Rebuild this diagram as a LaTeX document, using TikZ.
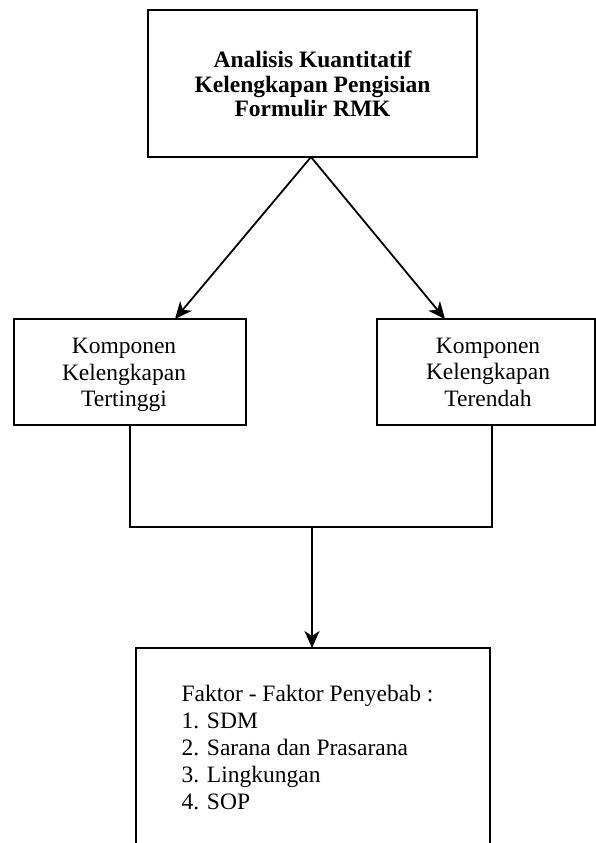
\documentclass[tikz,border=0pt]{standalone}
\usepackage{fontspec}
\setmainfont{Liberation Serif}
\usetikzlibrary{arrows.meta}
\begin{document}
\begin{tikzpicture}[x=1bp,y=-1bp,
  box/.style={draw,line width=1.8bp,rectangle,inner sep=0pt,align=center},
  txt/.style={font=\fontsize{23.5bp}{26.5bp}\selectfont},
  ltxt/.style={font=\fontsize{23.5bp}{27bp}\selectfont},
  btxt/.style={font=\fontsize{23.5bp}{24.5bp}\selectfont\bfseries},
  conn/.style={line width=1.8bp},
  arr/.style={line width=1.8bp,-{Stealth[length=17bp,width=15bp,inset=5bp]}}]
\useasboundingbox (0,0) rectangle (596,843);
\node[box,minimum width=329bp,minimum height=147bp] (top) at (312.5,83.5) {};
\node[btxt,align=center] (toptxt) at (312.5,84) {Analisis Kuantitatif\\Kelengkapan Pengisian\\Formulir RMK};
\node[box,minimum width=232bp,minimum height=106bp] (left) at (130,372) {};
\node[txt,align=center] (lefttxt) at (124,375) {Komponen\\Kelengkapan\\Tertinggi};
\node[box,minimum width=218bp,minimum height=106bp] (right) at (486,372) {};
\node[txt,align=center] (righttxt) at (488,372) {Komponen\\Kelengkapan\\Terendah};
\node[box,minimum width=354bp,minimum height=210bp] (bot) at (313,753) {};
\node[ltxt,align=left,anchor=west] (bottxt) at (178,748) {Faktor - Faktor Penyebab :\\1. SDM\\2. Sarana dan Prasarana\\3. Lingkungan\\4. SOP};
\coordinate (src) at (311,157);
\coordinate (lt) at (175,319);
\coordinate (rt) at (445,319);
\coordinate (lb) at (130,425);
\coordinate (rb) at (492,425);
\coordinate (jl) at (130,527);
\coordinate (jr) at (492,527);
\coordinate (jm) at (312,527);
\coordinate (bt) at (312,648);
\draw[arr] (src) -- (lt);
\draw[arr] (src) -- (rt);
\draw[conn] (lb) -- (jl) -- (jr) -- (rb);
\draw[arr] (jm) -- (bt);
\end{tikzpicture}
\end{document}
